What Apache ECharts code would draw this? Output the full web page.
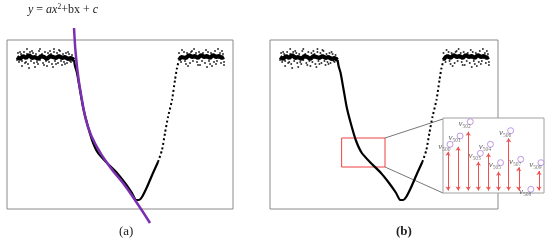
<!DOCTYPE html>
<html>
<head>
<meta charset="UTF-8">
<title>dip fit</title>
<script src="https://cdn.jsdelivr.net/npm/echarts@6/dist/echarts.min.js"></script>
<style>
  html, body { margin: 0; padding: 0; background: #fff; }
  #chart { width: 550px; height: 245px; }
</style>
</head>
<body>
<div id="chart"></div>
<script>
// plateau bands: centre line of the dense band, and loose dots around it
const leftBand = [[10,152],[13,150],[16,153],[19,151],[22,154],[25,151],[28,152],[31,150],[34,153],[37,152],[40,150],[43,153],[46,152],[49,151],[52,153],[55,151],[58,152],[61,150],[64,151],[67,149]];
const leftDots = [[11,156],[12,147],[14,155],[15,148],[17,157],[18,146],[20,155],[21,145],[23,157],[24,148],[26,156],[27,146],[29,155],[30,147],[32,158],[33,149],[35,155],[36,146],[38,157],[39,148],[41,156],[42,147],[44,155],[45,145],[47,157],[48,148],[50,156],[51,146],[53,158],[54,148],[56,155],[57,147],[59,156],[60,146],[62,155],[63,148],[65,154],[15,143],[28,142],[40,143],[55,144],[33,160],[47,160],[10,149],[13,157],[19,147],[25,158],[31,145],[37,144],[43,158],[49,145],[52,159],[58,145],[61,157],[64,147],[22,141],[46,142],[66,151],[20,160]];
const rightBand = [[172,149],[174,152],[176,153],[179,151],[182,154],[185,152],[188,153],[191,151],[194,154],[197,152],[200,153],[203,151],[206,154],[209,152],[212,153],[215,151],[217,152]];
const rightDots = [[172,156],[174,147],[177,157],[178,148],[180,156],[183,146],[184,157],[186,148],[189,156],[190,147],[192,157],[195,148],[196,156],[198,146],[201,157],[202,148],[204,156],[207,147],[208,158],[210,148],[213,156],[214,146],[216,155],[217,147],[181,143],[193,144],[205,143],[211,160],[187,160],[175,159],[179,145],[185,158],[191,144],[199,159],[203,145],[209,145],[215,158],[200,142],[217,144]];

// the dip itself
const dipSolid = [[67,149],[68,143],[70,136],[73,119],[76,102],[80,86],[85,69],[91,56],[100,46],[110,36],[118,26],[125,16],[129,9],[132,9],[135,12],[140,22],[146,36],[151,47]];
const dipDotted = [[151,47],[155,59],[158,76],[161,92],[165,109],[168,129],[170,141],[172,149]];

// quadratic fit drawn in (a)
const fitCurve = [[67,181],[70,142],[75,109],[81,82],[90,62],[103,42],[116,26],[130,6],[143,-14]];

// zoom window in (b): [x1, y1], [x2, y2]
const zoomBox = [[71,71],[114,42]];

// inset (velocity arrows)
const insetLabels = ['500','501','502','503','504','505','506','507','508','509'];
const arrowTop = [41.3,46.3,61.3,31.3,39.7,21.3,54.7,25.7,null,22];
const circleY = [48.7,57,71.3,39.7,48.7,30.3,62.3,33.7,3.7,30.3];
const arrowBase = 2.5;

const chart = echarts.init(document.getElementById('chart'));

const serif = 'Liberation Serif';

function panelSeries(gi) {
  const ax = { xAxisIndex: gi, yAxisIndex: gi };
  return [
    Object.assign({ type: 'line', data: leftBand, showSymbol: false, lineStyle: { color: '#000', width: 4 }, silent: true }, ax),
    Object.assign({ type: 'line', data: rightBand, showSymbol: false, lineStyle: { color: '#000', width: 4 }, silent: true }, ax),
    Object.assign({ type: 'scatter', data: leftDots.concat(rightDots), symbolSize: 2, itemStyle: { color: '#000' }, silent: true }, ax),
    Object.assign({
      type: 'line', data: dipSolid, showSymbol: false, smooth: 0.2,
      lineStyle: { color: '#000', width: 2.2 }, silent: true,
      markArea: gi === 1 ? {
        silent: true,
        itemStyle: { color: 'rgba(0,0,0,0)', borderColor: '#f04040', borderWidth: 1 },
        data: [[{ coord: zoomBox[0] }, { coord: zoomBox[1] }]]
      } : undefined
    }, ax),
    Object.assign({ type: 'line', data: dipDotted, showSymbol: false, smooth: 0.2, lineStyle: { color: '#000', width: 2, type: [2, 2.5] }, silent: true }, ax)
  ];
}

const series = panelSeries(0).concat(panelSeries(1));

series.push({
  type: 'line', xAxisIndex: 0, yAxisIndex: 0, data: fitCurve, smooth: true, clip: false,
  showSymbol: false, lineStyle: { color: '#7a2fb0', width: 2.5 }, z: 5, silent: true
});

const arrowData = [];
arrowTop.forEach((t, i) => {
  if (t !== null) arrowData.push({ coords: [[i, arrowBase], [i, t]] });
});

series.push({
  type: 'lines', coordinateSystem: 'cartesian2d', xAxisIndex: 2, yAxisIndex: 2,
  data: arrowData, symbol: ['arrow', 'arrow'], symbolSize: 4, z: 6,
  lineStyle: { color: '#f05050', width: 1, opacity: 1 }, silent: true
});

series.push({
  type: 'scatter', xAxisIndex: 2, yAxisIndex: 2, z: 6,
  data: circleY.map((v, i) => [i, v]),
  symbol: 'circle', symbolSize: 6, symbolOffset: [2, 0],
  itemStyle: { color: '#fff', borderColor: '#b27fdc', borderWidth: 1 },
  label: {
    show: true, position: 'left', distance: 0, offset: [4, 2],
    formatter: p => '{v|v}{s|' + insetLabels[p.dataIndex] + '}',
    rich: {
      v: { fontFamily: serif, fontStyle: 'italic', fontSize: 9, color: '#333' },
      s: { fontFamily: serif, fontSize: 5.5, color: '#555', padding: [6, 0, 0, 0] }
    }
  },
  silent: true
});

function valAxis(gi, min, max) {
  return { type: 'value', gridIndex: gi, min: min, max: max, show: false };
}

chart.setOption({
  animation: false,
  backgroundColor: '#fff',
  grid: [
    { left: 7, top: 40, width: 226, height: 169, show: true, borderColor: '#8a8a8a', borderWidth: 1 },
    { left: 270, top: 40, width: 228, height: 169, show: true, borderColor: '#8a8a8a', borderWidth: 1 },
    { left: 443, top: 118, width: 101, height: 75, show: true, backgroundColor: '#fff', borderColor: '#a0a0a0', borderWidth: 1, z: 3 }
  ],
  xAxis: [
    valAxis(0, 0, 226),
    valAxis(1, 0, 226),
    { type: 'category', gridIndex: 2, data: insetLabels, show: false }
  ],
  yAxis: [
    valAxis(0, 0, 169),
    valAxis(1, 0, 169),
    valAxis(2, 0, 75)
  ],
  graphic: [
    {
      id: 'eq', type: 'text', left: 28, top: 3,
      style: {
        text: '{i|y} = {i|ax}{p|2}+bx + {i|c}',
        font: '12px "Liberation Serif"', fill: '#222',
        rich: {
          i: { fontFamily: serif, fontStyle: 'italic', fontSize: 12, fill: '#222' },
          p: { fontFamily: serif, fontSize: 7.5, fill: '#222', padding: [0, 0, 6, 0] }
        }
      }
    },
    { id: 'capA', type: 'text', left: 119, top: 225, style: { text: '(a)', font: '13px "Liberation Serif"', fill: '#222' } },
    { id: 'capB', type: 'text', left: 396, top: 225, style: { text: '(b)', font: 'bold 13px "Liberation Serif"', fill: '#222' } }
  ],
  series: series
});

// connector lines from the red box to the inset
const pTop = chart.convertToPixel({ gridIndex: 1 }, [zoomBox[1][0], zoomBox[0][1]]);
const pBot = chart.convertToPixel({ gridIndex: 1 }, [zoomBox[1][0], zoomBox[1][1]]);
chart.setOption({
  graphic: [
    { id: 'c1', type: 'line', z: 2, shape: { x1: pTop[0], y1: pTop[1], x2: 443, y2: 119 }, style: { stroke: '#777', lineWidth: 1 } },
    { id: 'c2', type: 'line', z: 2, shape: { x1: pBot[0], y1: pBot[1], x2: 443, y2: 193 }, style: { stroke: '#777', lineWidth: 1 } }
  ]
});
</script>
</body>
</html>
